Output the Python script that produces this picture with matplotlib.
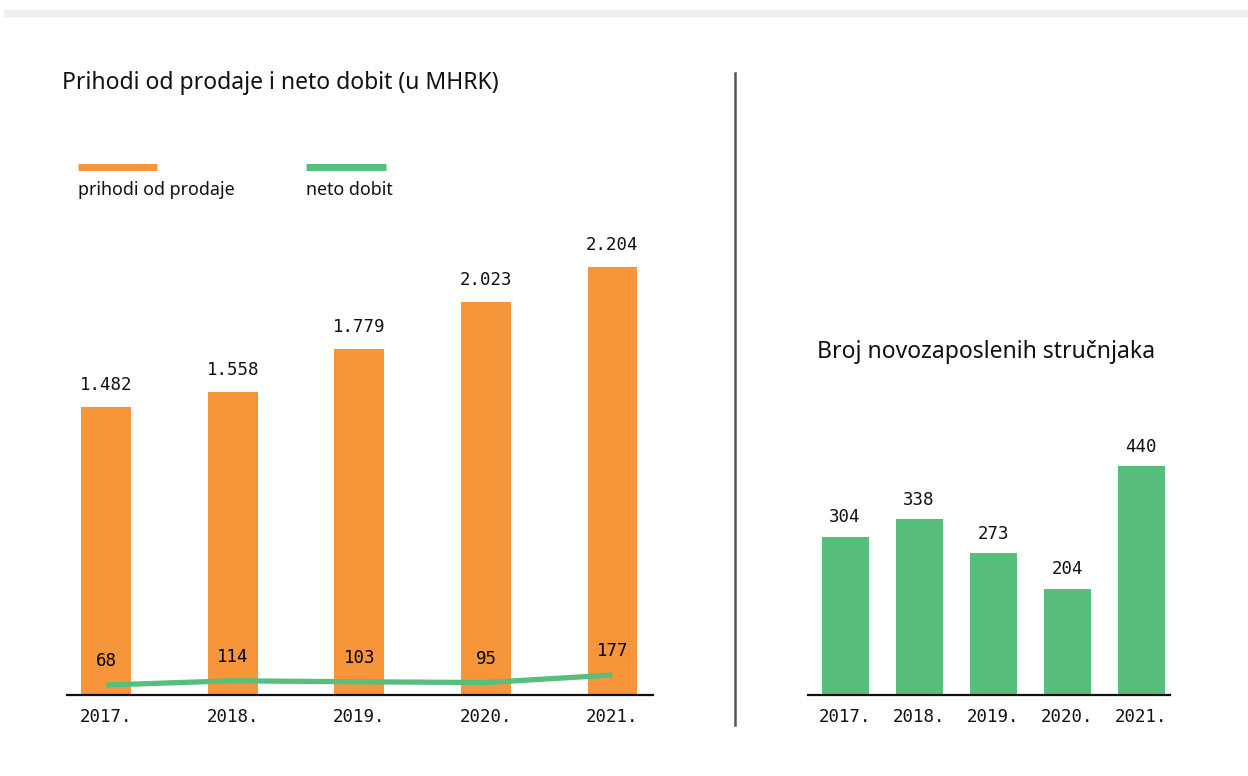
import matplotlib
matplotlib.use("Agg")
import matplotlib.pyplot as plt
from matplotlib.patches import Rectangle
from matplotlib.lines import Line2D

years = ["2017.", "2018.", "2019.", "2020.", "2021."]
revenue = [1482, 1558, 1779, 2023, 2204]
revenue_labels = ["1.482", "1.558", "1.779", "2.023", "2.204"]
profit = [68, 114, 103, 95, 177]
hires = [304, 338, 273, 204, 440]

ORANGE = "#F7953A"
GREEN = "#58BE7C"
TITLE_FONT = "Noto Sans"
NUM_FONT = "DejaVu Sans Mono"
TXT = "#111111"

W, H = 1248, 776
fig = plt.figure(figsize=(W / 100, H / 100), dpi=100)
fig.patch.set_facecolor("white")

def px_axes(x0, x1, ytop, ybot):
    return fig.add_axes([x0 / W, (H - ybot) / H, (x1 - x0) / W, (ybot - ytop) / H])

# top grey band
fig.patches.append(Rectangle((4 / W, (H - 16) / H), (W - 4) / W, 6 / H,
                             transform=fig.transFigure, color="#EFEFEF", zorder=0))
# vertical separator
fig.lines.append(Line2D([735 / W, 735 / W], [(H - 725) / H, (H - 73) / H],
                        transform=fig.transFigure, color="#555555", lw=1.8))

# ---------- left chart ----------
ax = px_axes(67, 653, 230, 695)
x = list(range(len(years)))
ax.bar(x, revenue, width=0.395, color=ORANGE, zorder=2)
ax.set_xlim(-0.31, 4.32)
ax.set_ylim(0, 2394)
for xi, v, lab in zip(x, revenue, revenue_labels):
    ax.annotate(lab, (xi, v), xytext=(0, 16), textcoords="offset points",
                ha="center", va="center", fontsize=12.5, family=NUM_FONT, color=TXT)
ax2 = ax.twinx()
ax2.set_ylim(-41, 5030)
ax2.plot(x, profit, color=GREEN, lw=3.8, solid_capstyle="butt", zorder=3)
for xi, v in zip(x, profit):
    ax2.annotate(str(v), (xi, v), xytext=(0, 17), textcoords="offset points",
                 ha="center", va="center", fontsize=12.5, family=NUM_FONT,
                 color="#000000", zorder=4)
for a in (ax, ax2):
    for s in ("top", "right", "left"):
        a.spines[s].set_visible(False)
    a.set_yticks([])
ax2.spines["bottom"].set_visible(False)
ax.spines["bottom"].set_linewidth(1.6)
ax.spines["bottom"].set_color(TXT)
ax.set_xticks(x)
ax.set_xticklabels(years, family=NUM_FONT, fontsize=12.5, color=TXT)
ax.tick_params(axis="x", length=0, pad=9)

fig.text(62 / W, (H - 83) / H, "Prihodi od prodaje i neto dobit (u MHRK)",
         fontsize=16.5, family=TITLE_FONT, color=TXT, va="center", ha="left")
# legend
fig.lines.append(Line2D([78 / W, 157 / W], [(H - 167) / H] * 2, transform=fig.transFigure,
                        color=ORANGE, lw=5, solid_capstyle="butt"))
fig.lines.append(Line2D([306 / W, 386 / W], [(H - 167) / H] * 2, transform=fig.transFigure,
                        color=GREEN, lw=5, solid_capstyle="butt"))
fig.text(78 / W, (H - 190) / H, "prihodi od prodaje", fontsize=12.8, family=TITLE_FONT,
         color=TXT, va="center", ha="left")
fig.text(306 / W, (H - 190) / H, "neto dobit", fontsize=12.8, family=TITLE_FONT,
         color=TXT, va="center", ha="left")

# ---------- right chart ----------
bx = px_axes(808, 1170, 435, 695)
bx.bar(x, hires, width=0.635, color=GREEN, zorder=2)
bx.set_xlim(-0.5, 4.39)
bx.set_ylim(0, 500)
for xi, v in zip(x, hires):
    bx.annotate(str(v), (xi, v), xytext=(0, 14), textcoords="offset points",
                ha="center", va="center", fontsize=12.5, family=NUM_FONT, color=TXT)
for s in ("top", "right", "left"):
    bx.spines[s].set_visible(False)
bx.spines["bottom"].set_linewidth(1.6)
bx.spines["bottom"].set_color(TXT)
bx.set_yticks([])
bx.set_xticks(x)
bx.set_xticklabels(years, family=NUM_FONT, fontsize=12.5, color=TXT)
bx.tick_params(axis="x", length=0, pad=9)

fig.text(817 / W, (H - 352) / H, "Broj novozaposlenih stručnjaka",
         fontsize=16.5, family=TITLE_FONT, color=TXT, va="center", ha="left")

fig.savefig("out.png", dpi=100, facecolor="white")
